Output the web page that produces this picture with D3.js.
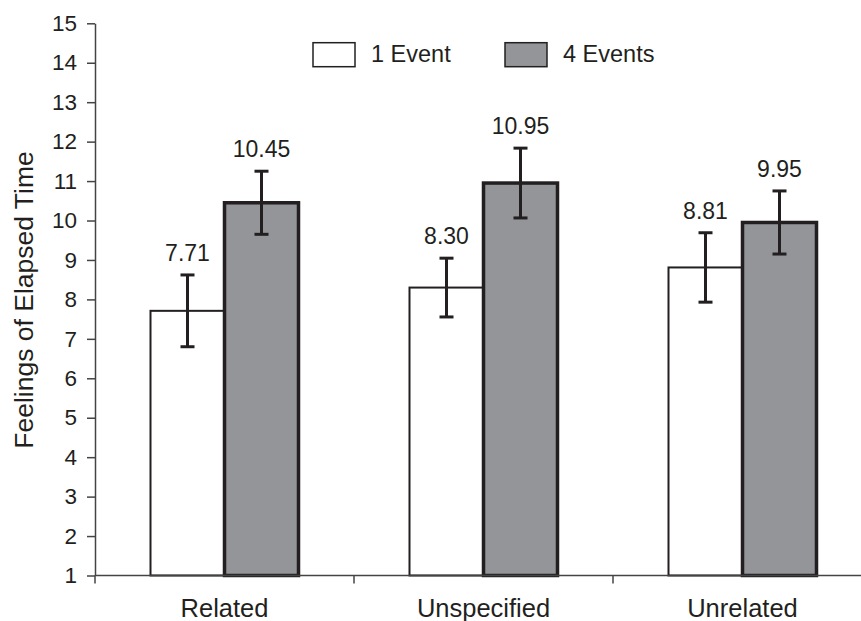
<!DOCTYPE html>
<html>
<head>
<meta charset="utf-8">
<script src="https://cdn.jsdelivr.net/npm/d3@7"></script>
<style>
  html, body { margin: 0; padding: 0; background: #fff; }
  svg { display: block; }
  text { font-family: "Liberation Sans", Arial, Helvetica, sans-serif; fill: #231f20; }
</style>
</head>
<body>
<svg id="chart" width="861" height="621"></svg>
<script>
// ---- data ----
const categories = ["Related", "Unspecified", "Unrelated"];
const seriesNames = ["1 Event", "4 Events"];
const oneEvent = [7.71, 8.30, 8.81];
const fourEvents = [10.45, 10.95, 9.95];
const oneEventErr = [0.91, 0.745, 0.88];
const fourEventsErr = [0.80, 0.885, 0.80];
const yTickValues = [1, 2, 3, 4, 5, 6, 7, 8, 9, 10, 11, 12, 13, 14, 15];
const yAxisTitle = "Feelings of Elapsed Time";

(function () {
// ---- layout ----
const svg = d3.select("#chart");
const plotLeft = 95, plotRight = 872, plotTop = 23.3, plotBottom = 575.5;
const ink = "#231f20";

const x = d3.scaleBand().domain(categories).range([plotLeft, plotRight]).paddingInner(0).paddingOuter(0);
const x1 = d3.scaleBand().domain(seriesNames).range([0, x.bandwidth()]).paddingInner(0).paddingOuter(0.75);
const y = d3.scaleLinear().domain([1, 15]).range([plotBottom, plotTop]);

const rows = [];
categories.forEach((c, i) => {
  rows.push({cat: c, s: seriesNames[0], v: oneEvent[i], e: oneEventErr[i]});
  rows.push({cat: c, s: seriesNames[1], v: fourEvents[i], e: fourEventsErr[i]});
});

const fills = {"1 Event": "#ffffff", "4 Events": "#939598"};
const strokeW = {"1 Event": 2, "4 Events": 3.5};

// ---- bars ----
svg.append("g").selectAll("rect").data(rows).join("rect")
  .attr("x", d => x(d.cat) + x1(d.s))
  .attr("width", x1.bandwidth())
  .attr("y", d => y(d.v))
  .attr("height", d => y(1) - y(d.v))
  .attr("fill", d => fills[d.s])
  .attr("stroke", ink)
  .attr("stroke-width", d => strokeW[d.s]);

// ---- axes ----
const yAxis = d3.axisLeft(y).tickValues(yTickValues).tickSize(8).tickSizeOuter(0).tickPadding(10).tickFormat(d3.format("d"));
const gy = svg.append("g").attr("transform", `translate(${plotLeft},0)`).call(yAxis);
gy.select(".domain").attr("stroke", "#444").attr("stroke-width", 1.5);
gy.selectAll(".tick line").attr("stroke", "#444").attr("stroke-width", 1.5);
gy.selectAll(".tick text").attr("font-size", 22.5).attr("fill", ink)
  .style("font-family", '"Liberation Sans", Arial, sans-serif');

// x axis line
svg.append("line")
  .attr("x1", plotLeft).attr("x2", plotRight).attr("y1", y(1)).attr("y2", y(1))
  .attr("stroke", "#444").attr("stroke-width", 1.5);
// boundary ticks
const boundaries = categories.map(c => x(c));
svg.append("g").selectAll("line").data(boundaries).join("line")
  .attr("x1", d => d).attr("x2", d => d)
  .attr("y1", y(1)).attr("y2", y(1) + 8)
  .attr("stroke", "#444").attr("stroke-width", 1.5);
// category labels
svg.append("g").selectAll("text").data(categories).join("text")
  .attr("x", d => x(d) + x.bandwidth() / 2)
  .attr("y", 617)
  .attr("text-anchor", "middle")
  .attr("font-size", 25.5)
  .text(d => d);

// ---- error bars ----
const cap = 7;
const eg = svg.append("g").attr("stroke", ink).attr("stroke-width", 3);
rows.forEach(d => {
  const cx = x(d.cat) + x1(d.s) + x1.bandwidth() / 2;
  const yt = y(d.v + d.e), yb = y(d.v - d.e);
  eg.append("line").attr("x1", cx).attr("x2", cx).attr("y1", yt).attr("y2", yb);
  eg.append("line").attr("x1", cx - cap).attr("x2", cx + cap).attr("y1", yt).attr("y2", yt);
  eg.append("line").attr("x1", cx - cap).attr("x2", cx + cap).attr("y1", yb).attr("y2", yb);
});

// ---- value labels ----
svg.append("g").selectAll("text").data(rows).join("text")
  .attr("x", d => x(d.cat) + x1(d.s) + x1.bandwidth() / 2)
  .attr("y", d => y(d.v + d.e) - 14)
  .attr("text-anchor", "middle")
  .attr("font-size", 23)
  .text(d => d3.format(".2f")(d.v));

// ---- y title ----
svg.append("text")
  .attr("transform", `translate(33,300) rotate(-90)`)
  .attr("text-anchor", "middle")
  .attr("font-size", 26.5)
  .text(yAxisTitle);

// ---- legend ----
const legendX = [313, 505];
const lg = svg.append("g");
seriesNames.forEach((s, i) => {
  lg.append("rect")
    .attr("x", legendX[i]).attr("y", 42.7).attr("width", 42).attr("height", 24)
    .attr("fill", fills[s]).attr("stroke", ink).attr("stroke-width", 1.5);
  lg.append("text")
    .attr("x", legendX[i] + 58).attr("y", 62)
    .attr("font-size", 23.5)
    .text(s);
});
})();
</script>
</body>
</html>
